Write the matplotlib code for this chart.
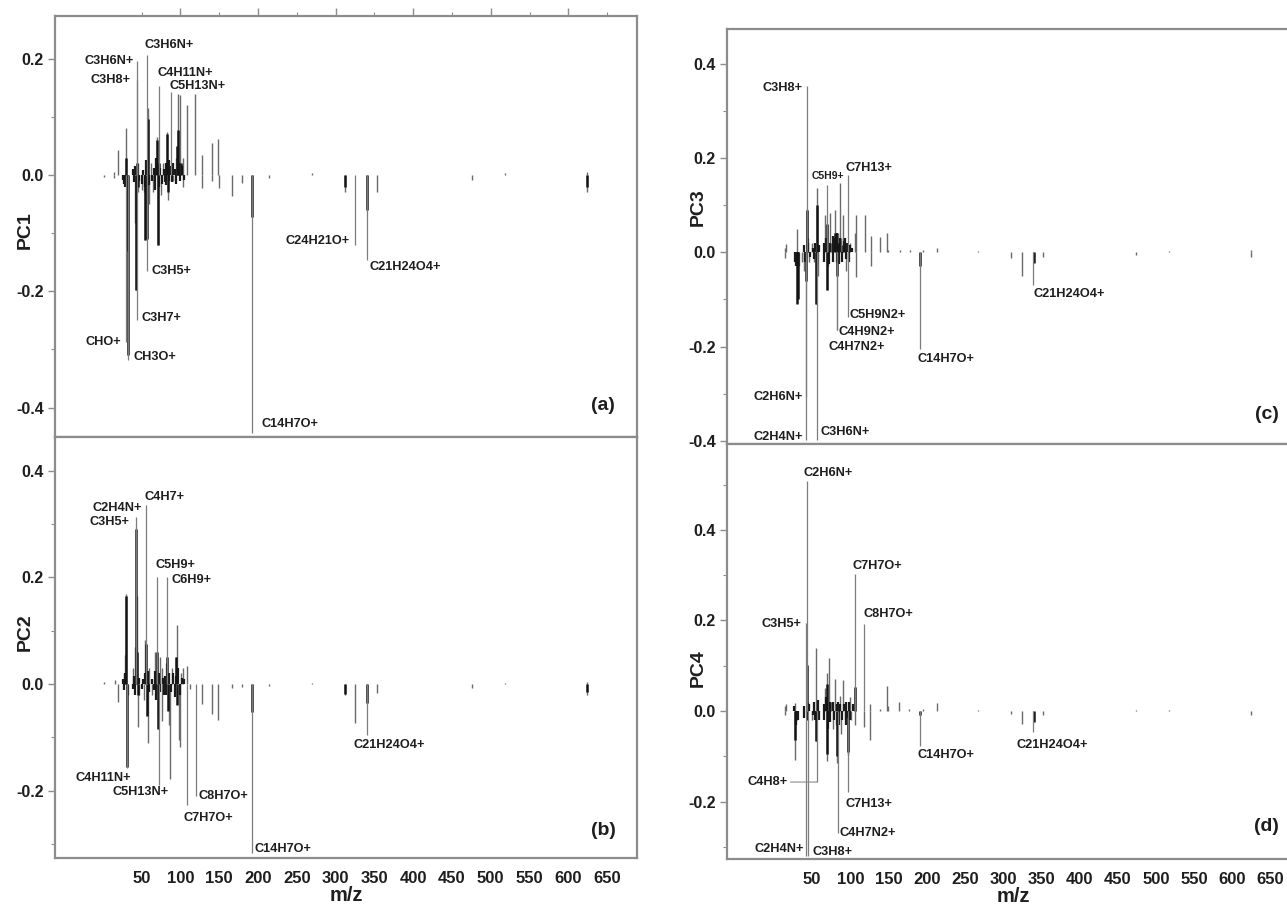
import matplotlib
matplotlib.use("Agg")
import matplotlib.pyplot as plt
import numpy as np

plt.rcParams['font.family'] = ['Liberation Sans', 'DejaVu Sans']
plt.rcParams['font.weight'] = 'bold'

# ---------------- data ----------------
# x axis
x_tick_labels = [50, 100, 150, 200, 250, 300, 350, 400, 450, 500, 550, 600, 650]
x_tick_marks = [100, 200, 300, 400, 500, 600]

# PC1 -------------------------------------------------------------
pc1_mz = [1, 15, 15, 20, 28, 30, 33, 41, 43, 46, 46, 50, 53, 55, 58.5, 60, 62, 65,
          70, 71, 75, 78, 83, 84, 90, 95, 97, 100, 103, 104, 108.5, 119.5, 128, 128,
          141, 141, 149, 150, 166, 180, 214, 270, 312, 354, 476, 518, 624, 624]
pc1_val = [-0.004, 0.006, -0.006, 0.043, -0.01, 0.081, -0.02, -0.083, -0.198, 0.02, -0.03,
           -0.025, -0.03, -0.112, 0.115, -0.05, 0.02, -0.03, 0.065, -0.12, -0.034, 0.02,
           0.074, -0.043, -0.01, 0.03, 0.139, 0.138, 0.03, -0.02, 0.12, 0.139, 0.034, -0.022,
           0.055, -0.01, 0.062, -0.022, -0.036, -0.014, -0.006, 0.003, -0.029, -0.03, -0.009,
           0.003, -0.03, 0.005]
pc1_core_mz = [30, 31, 32, 43, 44, 45, 55, 57, 58, 70, 71, 72, 83, 84, 96, 97, 101, 192, 340, 312, 624]
pc1_core_val = [0.03, -0.13, -0.31, -0.198, 0.02, -0.02, -0.112, -0.11, 0.097, 0.06, -0.12, 0.02,
                0.07, -0.03, 0.05, 0.077, 0.02, -0.072, -0.06, -0.02, -0.02]
pc1_small_mz = [26, 27, 29, 39, 40, 42, 47, 51, 52, 54, 56, 59, 64, 66, 68, 69, 73, 74, 76,
                79, 80, 81, 82, 85, 86, 87, 89, 91, 93, 94, 98, 99, 102, 105]
pc1_small_val = [-0.008, -0.015, -0.02, 0.01, -0.012, 0.015, -0.01, -0.015, 0.008, -0.02,
                 0.025, -0.018, -0.01, 0.012, -0.025, 0.03, -0.02, 0.012, -0.015, 0.01,
                 -0.012, 0.02, -0.018, 0.025, -0.01, 0.015, -0.012, 0.02, 0.01, -0.015,
                 0.02, -0.01, 0.015, -0.008]
pc1_lab_text = ['C3H6N+', 'C3H8+', 'C3H6N+', 'C4H11N+', 'C5H13N+', 'C3H5+', 'C3H7+',
                'CHO+', 'CH3O+', 'C14H7O+', 'C24H21O+', 'C21H24O4+']
pc1_lab_mz = [44, 44.5, 57, 72.5, 88, 57, 44.5, 29.5, 32, 192, 325, 340]
pc1_lab_val = [0.196, 0.163, 0.206, 0.153, 0.143, -0.165, -0.25, -0.287, -0.318, -0.444, -0.12, -0.146]

# PC2 -------------------------------------------------------------
pc2_mz = [1, 16, 20, 28, 29, 30, 33, 39, 41, 44, 45.5, 47, 53, 55, 58, 59, 63, 67, 71,
          74, 76, 77, 81, 85, 87, 89, 96, 95, 98, 100, 101, 103, 108, 113, 128, 141, 149,
          166, 180, 214, 270, 312, 325, 354, 476, 518, 624, 624]
pc2_val = [0.003, 0.007, -0.033, 0.02, 0.054, 0.169, -0.02, 0.03, 0.07, 0.164, -0.081, -0.02,
           -0.03, 0.083, -0.111, 0.03, -0.02, 0.06, -0.06, 0.05, -0.07, 0.03, 0.04, -0.077,
           -0.178, 0.03, 0.111, 0.05, -0.105, -0.118, 0.02, 0.03, 0.033, -0.01, -0.038, -0.057,
           -0.068, -0.008, -0.005, -0.003, 0.002, -0.021, -0.074, -0.017, -0.007, 0.002, -0.02, 0.004]
pc2_core_mz = [30, 31, 43, 44, 45, 56, 57, 70, 71, 83, 84, 95, 96, 192, 340, 312, 624]
pc2_core_val = [0.165, -0.155, 0.29, 0.06, -0.02, 0.075, -0.06, 0.06, -0.085, 0.05, -0.05,
                0.05, -0.04, -0.052, -0.036, -0.018, -0.015]
pc2_small_mz = [26, 27, 29, 39, 40, 42, 47, 51, 52, 54, 58, 60, 64, 66, 68, 69, 72, 74, 78,
                79, 80, 82, 86, 88, 91, 93, 94, 97, 99, 102, 105]
pc2_small_val = [0.01, -0.012, 0.02, -0.01, 0.015, -0.02, 0.012, -0.01, 0.01, 0.02, 0.025,
                 -0.015, 0.01, -0.012, 0.025, -0.03, 0.02, -0.015, 0.012, -0.02, 0.015,
                 -0.02, 0.02, -0.015, 0.02, -0.025, 0.015, 0.03, -0.02, 0.012, 0.01]
pc2_lab_text = ['C2H4N+', 'C3H5+', 'C4H7+', 'C5H9+', 'C6H9+', 'C4H11N+', 'C5H13N+',
                'C8H7O+', 'C7H7O+', 'C14H7O+', 'C21H24O4+']
pc2_lab_mz = [43, 43, 56, 70, 83, 31, 73, 120.5, 108, 192, 340]
pc2_lab_val = [0.313, 0.292, 0.336, 0.201, 0.201, -0.158, -0.189, -0.21, -0.227, -0.317, -0.096]

# PC3 -------------------------------------------------------------
pc3_mz = [14, 14, 16, 28, 30, 33, 37, 40, 43, 45, 46, 50, 53, 55, 56, 57, 58, 67, 69, 71,
          73, 75, 80, 81, 84, 86.5, 88, 91, 95, 99, 106, 107.5, 108, 119, 127, 127, 139,
          147.6, 150, 165, 178, 195.6, 213, 267.5, 311, 325, 352.6, 474, 517, 624, 624]
pc3_val = [0.01, -0.012, 0.018, -0.02, 0.049, -0.03, -0.02, -0.04, 0.091, 0.03, -0.02, 0.02,
           -0.02, -0.11, 0.136, 0.095, -0.05, 0.08, -0.08, -0.03, 0.084, 0.02, 0.09, -0.02,
           0.04, 0.146, 0.03, 0.08, -0.04, 0.02, 0.04, 0.079, -0.052, 0.079, 0.035, -0.03,
           0.032, 0.04, 0.005, 0.004, 0.004, 0.005, 0.01, 0.002, -0.012, -0.05, -0.01, -0.005,
           0.002, -0.01, 0.004]
pc3_core_mz = [30, 31, 42, 43, 55, 56, 69, 70, 80, 83, 84, 91, 191, 340]
pc3_core_val = [-0.11, -0.1, -0.06, 0.09, -0.11, 0.1, 0.06, -0.08, 0.04, -0.05, 0.02, 0.015,
                -0.03, -0.023]
pc3_small_mz = [27, 29, 32, 39, 41, 44, 47, 51, 52, 54, 57, 59, 65, 66, 68, 72, 74, 77, 78,
                79, 82, 85, 87, 89, 92, 93, 94, 96, 98, 100, 102]
pc3_small_val = [-0.02, -0.03, -0.015, 0.015, -0.02, 0.02, -0.01, 0.01, -0.015, 0.02, -0.03,
                 0.015, 0.02, -0.02, 0.03, -0.025, 0.02, 0.035, -0.02, 0.03, 0.04, -0.025,
                 0.03, -0.02, 0.025, 0.03, -0.015, 0.02, -0.02, 0.015, 0.01]
pc3_lab_text = ['C3H8+', 'C5H9+', 'C7H13+', 'C5H9N2+', 'C4H9N2+', 'C4H7N2+', 'C14H7O+',
                'C21H24O4+', 'C2H6N+', 'C2H4N+', 'C3H6N+']
pc3_lab_mz = [43.7, 69, 97, 97, 83, 83, 191, 339.5, 42, 42, 56]
pc3_lab_val = [0.353, 0.143, 0.164, -0.137, -0.165, -0.165, -0.204, -0.069, -0.306, -0.398, -0.398]

# PC4 -------------------------------------------------------------
pc4_mz = [14, 15, 16, 27.6, 28, 30, 45, 50, 55, 55, 57, 67, 69, 70, 72.6, 75, 77, 80, 81,
          83, 86.5, 88, 91, 93, 97, 99.6, 101, 106, 118, 126, 126, 139, 147.6, 150, 164,
          177, 195, 213, 267.5, 311, 325, 352.6, 474, 517, 624]
pc4_val = [0.01, -0.01, 0.015, -0.108, 0.017, -0.02, 0.02, -0.02, 0.138, -0.066, 0.02, 0.05,
           0.084, -0.11, 0.116, 0.02, -0.04, 0.071, -0.03, -0.116, 0.034, -0.05, 0.068, -0.02,
           -0.097, 0.031, -0.02, -0.031, -0.035, -0.064, 0.016, 0.005, 0.055, 0.01, 0.02,
           0.004, 0.005, 0.017, 0.002, -0.007, -0.029, -0.008, 0.003, 0.002, -0.008]
pc4_core_mz = [28, 43, 43, 55, 69, 70, 83, 97, 106, 191, 340]
pc4_core_val = [-0.064, 0.102, -0.02, -0.066, -0.095, 0.06, -0.1, -0.09, 0.054, -0.01, -0.024]
pc4_small_mz = [26, 29, 31, 39, 40, 46, 51, 53, 54, 58, 59, 65, 66, 68, 71, 73, 74, 78, 79,
                82, 84, 85, 87, 89, 92, 94, 95, 96, 98, 100, 103]
pc4_small_val = [0.01, -0.03, -0.02, 0.012, -0.015, 0.015, -0.01, 0.02, -0.02, 0.025, -0.02,
                 0.015, -0.02, 0.03, -0.04, 0.02, -0.025, 0.02, -0.02, 0.015, 0.02, -0.03,
                 0.015, -0.02, 0.015, -0.03, 0.02, -0.015, 0.02, -0.02, 0.015]
pc4_lab_text = ['C2H6N+', 'C3H5+', 'C7H7O+', 'C8H7O+', 'C4H8+', 'C7H13+', 'C4H7N2+',
                'C2H4N+', 'C3H8+', 'C14H7O+', 'C21H24O4+']
pc4_lab_mz = [43, 41.5, 106, 118, 56, 97.4, 83.5, 42, 44, 191, 339.5]
pc4_lab_val = [0.507, 0.195, 0.303, 0.192, -0.157, -0.178, -0.27, -0.32, -0.32, -0.077, -0.046]

# ---------------- layout / styling ----------------
# label placement: (ha, dx px, dy px), text vertically centred
pc1_lab_pos = [('right', -3, 0), ('right', -7, 0), ('left', -2, 10), ('left', -1, 13),
               ('left', -2, 6), ('left', 5, 0), ('left', 4, 2), ('right', -4, 0),
               ('left', 6, 3), ('left', 10, 9), ('right', -5, 4), ('left', 3, -7)]
pc2_lab_pos = [('right', 6, 9), ('right', -7, 6), ('left', -2, 8), ('left', -2, 12),
               ('left', 4, -3), ('right', 4, -10), ('right', 9, -7), ('left', 2, 0),
               ('left', -3, -13), ('left', 3, 4), ('left', -13, -10)]
pc3_lab_pos = [('right', -5, -2), ('center', 1, 9), ('left', -2, 7), ('left', 2, 2),
               ('left', 1, -2), ('left', -9, -17), ('left', -2, -10), ('left', 0, -9),
               ('right', -3, 0), ('right', -3, 3), ('left', 4, 8)]
pc4_lab_pos = [('left', -3, 8), ('right', -4, -1), ('left', -2, 8), ('left', -1, 10),
               ('right', -29, 0), ('left', -3, -12), ('left', 2, 0), ('right', -2, 7),
               ('left', 5, 4), ('left', -2, -9), ('left', -17, -13)]

W, H = 1287, 908
fig = plt.figure(figsize=(W / 100, H / 100), dpi=100)

XLIM = (-61.5, 688.5)


def px_rect(x0, y_top, x1, y_bot):
    return [x0 / W, 1 - y_bot / H, (x1 - x0) / W, (y_bot - y_top) / H]


panels = [
    dict(rect=px_rect(55, 16, 637, 436.7), ylim=(-0.450, 0.2734), yt=[-0.4, -0.2, 0.0, 0.2],
         name='PC1', namey=0.49, tag='(a)', tagy=0.073, mz=pc1_mz, val=pc1_val,
         cmz=pc1_core_mz, cval=pc1_core_val, smz=pc1_small_mz, sval=pc1_small_val,
         lt=pc1_lab_text, lmz=pc1_lab_mz, lval=pc1_lab_val, lpos=pc1_lab_pos, where='top'),
    dict(rect=px_rect(55, 436.7, 637, 858.3), ylim=(-0.327, 0.4637), yt=[-0.2, 0.0, 0.2, 0.4],
         name='PC2', namey=0.537, tag='(b)', tagy=0.067, mz=pc2_mz, val=pc2_val,
         cmz=pc2_core_mz, cval=pc2_core_val, smz=pc2_small_mz, sval=pc2_small_val,
         lt=pc2_lab_text, lmz=pc2_lab_mz, lval=pc2_lab_val, lpos=pc2_lab_pos, where='bottom'),
    dict(rect=px_rect(726.9, 29.3, 1299.9, 444.3), ylim=(-0.407, 0.4728),
         yt=[-0.4, -0.2, 0.0, 0.2, 0.4],
         name='PC3', namey=0.572, tag='(c)', tagy=0.071, mz=pc3_mz, val=pc3_val,
         cmz=pc3_core_mz, cval=pc3_core_val, smz=pc3_small_mz, sval=pc3_small_val,
         lt=pc3_lab_text, lmz=pc3_lab_mz, lval=pc3_lab_val, lpos=pc3_lab_pos, where='none'),
    dict(rect=px_rect(726.9, 444.3, 1299.9, 859), ylim=(-0.327, 0.589), yt=[-0.2, 0.0, 0.2, 0.4],
         name='PC4', namey=0.46, tag='(d)', tagy=0.078, mz=pc4_mz, val=pc4_val,
         cmz=pc4_core_mz, cval=pc4_core_val, smz=pc4_small_mz, sval=pc4_small_val,
         lt=pc4_lab_text, lmz=pc4_lab_mz, lval=pc4_lab_val, lpos=pc4_lab_pos, where='bottom'),
]

SPINE = '#8c8c8c'
TXT = '#1e1e1e'

for p in panels:
    ax = fig.add_axes(p['rect'])
    for s in ax.spines.values():
        s.set_color(SPINE)
        s.set_linewidth(1.6)

    ax.vlines(p['mz'], 0, p['val'], colors='#6a6a6a', lw=1.0)
    ax.vlines(p['smz'], 0, p['sval'], colors='#1a1a1a', lw=1.6, capstyle='butt')
    ax.vlines(p['cmz'], 0, p['cval'], colors='#141414', lw=1.8, capstyle='butt')
    ax.vlines(p['lmz'], 0, p['lval'], colors='#7c7c7c', lw=0.9)
    ax.set_xlim(*XLIM)
    ax.set_ylim(*p['ylim'])

    for t, m, v, (ha, dx, dy) in zip(p['lt'], p['lmz'], p['lval'], p['lpos']):
        fs = 7.5 if (p['name'] == 'PC3' and t == 'C5H9+') else 9.2
        if p['name'] == 'PC4' and t == 'C4H8+':
            ax.annotate(t, xy=(m, v), xytext=(dx, dy), textcoords='offset pixels',
                        ha=ha, va='center', fontsize=fs, fontweight='bold', color=TXT,
                        arrowprops=dict(arrowstyle='-', color='#8a8a8a', lw=0.8,
                                        shrinkA=0, shrinkB=0))
        else:
            ax.annotate(t, xy=(m, v), xytext=(dx, dy), textcoords='offset pixels',
                        ha=ha, va='center', fontsize=fs, fontweight='bold', color=TXT)

    # y axis
    ax.set_yticks(p['yt'])
    ax.set_yticklabels([f'{v:.1f}' for v in p['yt']])
    ax.set_yticks(np.arange(-0.4, 0.61, 0.1), minor=True)
    ax.set_ylim(*p['ylim'])
    ax.tick_params(axis='y', which='major', direction='out', length=5, width=1,
                   color=SPINE, labelsize=11.5, labelcolor=TXT, pad=3)
    ax.tick_params(axis='y', which='minor', direction='out', length=3, width=0.8, color=SPINE)
    for lab in ax.get_yticklabels():
        lab.set_fontweight('bold')
    ax.set_ylabel(p['name'], fontsize=14, fontweight='bold', color=TXT)
    ax.yaxis.set_label_coords(-0.036, p['namey'])

    # x axis
    if p['where'] == 'bottom':
        ax.set_xticks(x_tick_labels)
        ax.set_xticklabels([str(v) for v in x_tick_labels])
        ax.tick_params(axis='x', which='major', length=0, labelsize=12, labelcolor=TXT, pad=9)
        for lab in ax.get_xticklabels():
            lab.set_fontweight('bold')
        ax.set_xticks(x_tick_marks, minor=True)
        ax.tick_params(axis='x', which='minor', direction='out', length=5, width=1, color=SPINE)
        ax.set_xlabel('m/z', fontsize=14.5, fontweight='bold', color=TXT, labelpad=0)
    elif p['where'] == 'top':
        ax.set_xticks(x_tick_marks)
        ax.set_xticks([50, 150, 250, 350, 450, 550, 650], minor=True)
        ax.tick_params(axis='x', which='both', top=True, bottom=False, labeltop=False,
                       labelbottom=False, direction='out', color=SPINE)
        ax.tick_params(axis='x', which='major', length=6, width=1)
        ax.tick_params(axis='x', which='minor', length=3, width=0.8)
    else:
        ax.set_xticks([])
    ax.set_xlim(*XLIM)

    ax.text(0.942, p['tagy'], p['tag'], transform=ax.transAxes, ha='center', va='center',
            fontsize=14, fontweight='bold', color=TXT)

fig.savefig('out.png', dpi=100)
